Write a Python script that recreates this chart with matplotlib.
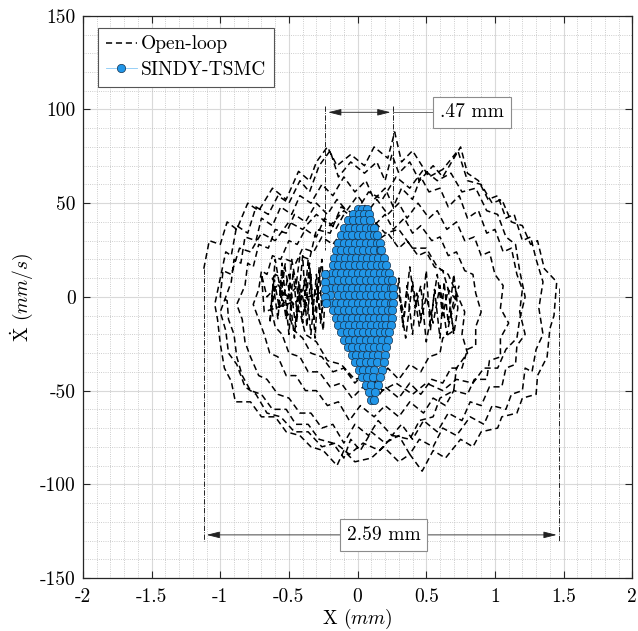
import matplotlib
matplotlib.use('Agg')
import matplotlib.pyplot as plt
from matplotlib.ticker import MultipleLocator

plt.rcParams['font.family'] = 'serif'
plt.rcParams['font.serif'] = ['cmr10', 'DejaVu Serif']
plt.rcParams['mathtext.fontset'] = 'cm'
plt.rcParams['axes.unicode_minus'] = False

# open-loop trajectory (x in mm, xdot in mm/s)
loop_1 = [(-1.12, 15), (-1.08, 30), (-1.0, 28), (-0.95, 40), (-0.88, 36), (-0.8, 50), (-0.72, 46),
          (-0.62, 58), (-0.52, 52), (-0.43, 67), (-0.35, 62), (-0.3, 72), (-0.22, 80), (-0.15, 70),
          (-0.05, 76), (0.05, 70), (0.12, 80), (0.22, 74), (0.27, 88), (0.32, 72), (0.4, 78),
          (0.52, 64), (0.62, 68), (0.73, 78), (0.8, 62), (0.9, 60), (0.98, 50), (1.05, 52),
          (1.12, 40), (1.2, 38), (1.26, 28), (1.31, 30), (1.36, 15), (1.45, 8), (1.43, -10),
          (1.4, -17), (1.38, -32), (1.31, -42), (1.3, -52), (1.2, -54), (1.16, -62), (1.05, -64),
          (1.02, -70), (0.9, -72), (0.84, -80), (0.75, -76), (0.64, -86), (0.55, -82), (0.47, -93),
          (0.38, -84), (0.3, -88), (0.19, -80), (0.1, -86), (-0.02, -88), (-0.1, -82), (-0.15, -90),
          (-0.25, -82), (-0.34, -80), (-0.42, -74), (-0.52, -72), (-0.6, -64), (-0.7, -64),
          (-0.78, -56), (-0.89, -56), (-0.92, -45), (-0.97, -38), (-1.0, -25), (-1.02, -12),
          (-1.04, -4)]
loop_2 = [(-1.0, 10), (-0.96, 24), (-0.92, 22), (-0.88, 38), (-0.8, 34), (-0.74, 48), (-0.65, 44),
          (-0.58, 54), (-0.5, 50), (-0.42, 62), (-0.35, 56), (-0.28, 70), (-0.2, 78), (-0.14, 64),
          (-0.05, 72), (0.05, 66), (0.14, 72), (0.2, 62), (0.25, 76), (0.3, 66), (0.38, 72),
          (0.45, 62), (0.55, 70), (0.62, 64), (0.75, 80), (0.8, 66), (0.88, 62), (0.95, 52),
          (1.02, 54), (1.08, 42), (1.14, 44), (1.2, 30), (1.26, 32), (1.3, 20), (1.35, 8),
          (1.32, -6), (1.35, -20), (1.3, -28), (1.27, -40), (1.22, -38), (1.2, -50), (1.12, -52),
          (1.08, -60), (0.98, -58), (0.92, -68), (0.82, -64), (0.72, -74), (0.62, -70), (0.55, -80),
          (0.45, -76), (0.38, -84), (0.3, -74), (0.2, -78), (0.1, -72), (0.02, -82), (-0.05, -76),
          (-0.1, -86), (-0.18, -78), (-0.28, -76), (-0.36, -68), (-0.45, -68), (-0.52, -60),
          (-0.62, -60), (-0.7, -52), (-0.78, -50), (-0.84, -42), (-0.88, -32), (-0.9, -20),
          (-0.94, -12), (-0.95, -2)]
loop_3 = [(-0.92, 8), (-0.9, 20), (-0.85, 18), (-0.82, 32), (-0.74, 30), (-0.7, 42), (-0.62, 38),
          (-0.56, 48), (-0.48, 44), (-0.42, 54), (-0.34, 50), (-0.26, 60), (-0.18, 54), (-0.1, 64),
          (-0.02, 56), (0.06, 62), (0.12, 52), (0.2, 58), (0.26, 48), (0.32, 58), (0.4, 52),
          (0.46, 64), (0.52, 56), (0.6, 58), (0.66, 48), (0.74, 54), (0.8, 42), (0.88, 46),
          (0.94, 34), (1.0, 36), (1.06, 24), (1.12, 26), (1.16, 12), (1.2, 4), (1.18, -8),
          (1.22, -20), (1.16, -26), (1.15, -36), (1.08, -38), (1.05, -48), (0.96, -48), (0.9, -58),
          (0.82, -56), (0.76, -66), (0.66, -62), (0.58, -72), (0.48, -66), (0.4, -76), (0.32, -68),
          (0.25, -74), (0.15, -66), (0.08, -74), (-0.02, -68), (-0.1, -78), (-0.18, -68),
          (-0.26, -70), (-0.34, -62), (-0.42, -62), (-0.5, -54), (-0.58, -52), (-0.66, -44),
          (-0.72, -42), (-0.78, -32), (-0.82, -24), (-0.84, -12), (-0.88, -4)]
loop_7 = [(-0.45, 5), (-0.42, 22), (-0.35, 20), (-0.3, 36), (-0.2, 34), (-0.12, 48), (-0.02, 44),
          (0.08, 56), (0.18, 52), (0.28, 64), (0.38, 58), (0.48, 68), (0.58, 62), (0.68, 66),
          (0.76, 56), (0.86, 58), (0.94, 46), (1.02, 44), (1.08, 32), (1.15, 28), (1.18, 14),
          (1.22, 0), (1.18, -12), (1.16, -22), (1.08, -28), (1.02, -38), (0.92, -38), (0.84, -46),
          (0.72, -44), (0.62, -50), (0.5, -46), (0.4, -52), (0.28, -46), (0.18, -50), (0.08, -42),
          (-0.02, -44), (-0.12, -36), (-0.22, -34), (-0.3, -24), (-0.38, -20), (-0.42, -8)]
loop_4 = [(-0.82, 6), (-0.8, 18), (-0.76, 16), (-0.72, 28), (-0.65, 26), (-0.6, 36), (-0.52, 34),
          (-0.46, 44), (-0.38, 40), (-0.3, 50), (-0.22, 44), (-0.15, 52), (-0.08, 46), (0.0, 54),
          (0.08, 46), (0.14, 52), (0.22, 44), (0.3, 50), (0.36, 42), (0.44, 50), (0.52, 42),
          (0.58, 46), (0.65, 36), (0.72, 40), (0.78, 30), (0.85, 32), (0.9, 22), (0.96, 24),
          (1.0, 12), (1.06, 6), (1.04, -6), (1.1, -14), (1.04, -22), (1.04, -32), (0.96, -34),
          (0.94, -44), (0.85, -44), (0.8, -52), (0.7, -50), (0.64, -58), (0.55, -54), (0.48, -62),
          (0.38, -56), (0.3, -64), (0.2, -58), (0.12, -64), (0.02, -58), (-0.06, -66), (-0.14, -56),
          (-0.22, -58), (-0.3, -50), (-0.38, -50), (-0.45, -42), (-0.52, -42), (-0.58, -32),
          (-0.64, -30), (-0.68, -20), (-0.72, -12), (-0.76, -4)]
loop_5 = [(-0.72, 4), (-0.7, 14), (-0.66, 12), (-0.62, 22), (-0.56, 20), (-0.5, 30), (-0.44, 28),
          (-0.38, 36), (-0.3, 32), (-0.24, 42), (-0.16, 36), (-0.1, 44), (-0.02, 38), (0.06, 46),
          (0.12, 38), (0.2, 44), (0.26, 36), (0.34, 42), (0.4, 34), (0.46, 38), (0.54, 30),
          (0.6, 32), (0.66, 22), (0.72, 24), (0.78, 14), (0.84, 12), (0.86, 2), (0.9, -8),
          (0.86, -16), (0.86, -26), (0.8, -28), (0.76, -38), (0.68, -38), (0.62, -46), (0.54, -44),
          (0.46, -52), (0.38, -46), (0.3, -54), (0.2, -48), (0.12, -56), (0.04, -48), (-0.04, -54),
          (-0.12, -46), (-0.2, -48), (-0.28, -40), (-0.36, -40), (-0.42, -32), (-0.5, -30),
          (-0.55, -20), (-0.6, -16), (-0.63, -6)]
loop_8 = [(-1.0, 0), (-0.98, 14), (-0.92, 12), (-0.86, 26), (-0.78, 24), (-0.7, 34), (-0.6, 30),
          (-0.5, 40), (-0.4, 36), (-0.3, 44), (-0.2, 38), (-0.1, 46), (0.0, 40), (0.1, 42),
          (0.2, 34), (0.3, 36), (0.4, 26), (0.5, 26), (0.58, 16), (0.66, 12), (0.72, 2),
          (0.78, -8), (0.76, -20), (0.8, -30), (0.72, -38), (0.7, -50), (0.6, -54), (0.55, -64),
          (0.45, -66), (0.38, -76), (0.26, -74), (0.16, -82), (0.04, -78), (-0.06, -84),
          (-0.16, -78), (-0.26, -80), (-0.36, -72), (-0.46, -72), (-0.56, -64), (-0.66, -62),
          (-0.74, -52), (-0.82, -48), (-0.88, -36), (-0.94, -30), (-0.96, -18), (-1.0, -8)]
loop_6 = [(-0.62, 4), (-0.6, 12), (-0.55, 10), (-0.52, 20), (-0.45, 18), (-0.4, 26), (-0.32, 24),
          (-0.26, 32), (-0.18, 28), (-0.1, 36), (-0.02, 30), (0.06, 36), (0.14, 30), (0.22, 34),
          (0.3, 26), (0.36, 30), (0.44, 22), (0.5, 24), (0.56, 16), (0.62, 14), (0.66, 4),
          (0.72, -2), (0.68, -10), (0.7, -18), (0.62, -22), (0.6, -30), (0.52, -32), (0.46, -40),
          (0.38, -36), (0.3, -44), (0.22, -38), (0.14, -46), (0.06, -40), (-0.02, -46),
          (-0.1, -38), (-0.18, -40), (-0.26, -32), (-0.34, -30), (-0.4, -22), (-0.46, -18),
          (-0.5, -10), (-0.55, -4)]
center_noise = [(-0.62, 10), (-0.58, -12), (-0.55, 18), (-0.5, -20), (-0.47, 14), (-0.44, -10),
                (-0.4, 22), (-0.37, -16), (-0.34, 12), (-0.31, -22), (-0.28, 16), (-0.26, -8),
                (-0.23, 10), (-0.25, -18), (-0.3, 6), (-0.33, -4), (-0.36, 20), (-0.4, -14),
                (-0.43, 8), (-0.46, -22), (-0.5, 4), (-0.53, 16), (-0.57, -6), (-0.6, 6),
                (-0.64, -14), (-0.6, 20), (-0.55, -2), (-0.5, 12), (-0.45, -16), (-0.41, 4),
                (-0.38, -8), (-0.35, 18), (-0.32, -12), (-0.29, 2), (-0.26, 20), (-0.24, -4),
                (-0.22, 14), (-0.27, -14), (-0.3, 12), (-0.34, -20), (-0.38, 10), (-0.42, -4),
                (-0.48, 20), (-0.52, -12), (-0.56, 8), (-0.66, 0), (-0.7, 12), (-0.68, -8),
                (-0.2, 4), (0.28, -4),
                (0.3, 10), (0.33, -16), (0.36, 6), (0.4, -20), (0.43, 2), (0.46, -12), (0.5, 14),
                (0.53, -18), (0.56, 4), (0.6, -22), (0.63, 8), (0.66, -14), (0.7, 12), (0.73, -6),
                (0.7, -20), (0.66, 4), (0.62, -10), (0.58, 12), (0.54, -8), (0.5, -24), (0.46, 6),
                (0.42, -6), (0.38, 16), (0.34, -10), (0.3, 2), (0.35, -22), (0.4, 8), (0.45, -16),
                (0.5, 0), (0.55, -14), (0.6, 6), (0.65, -20), (0.7, -2), (0.74, 6)]

# closed-loop (SINDY-TSMC) states: one row of x positions per xdot level
blue_levels = [47, 44, 41, 37, 33, 29, 25, 21, 17, 13, 9, 5, 1, -3, -7, -11, -15, -19, -23,
               -27, -31, -35, -39, -43, -47, -51, -55]
blue_rows = [
    [0.0, 0.035, 0.07],
    [-0.03, 0.01, 0.05, 0.08],
    [-0.07, -0.03, 0.01, 0.05, 0.09],
    [-0.1, -0.06, -0.02, 0.02, 0.06, 0.1, 0.12],
    [-0.12, -0.08, -0.04, 0.0, 0.04, 0.08, 0.12, 0.14],
    [-0.14, -0.1, -0.06, -0.02, 0.02, 0.06, 0.1, 0.14, 0.16],
    [-0.16, -0.12, -0.08, -0.04, 0.0, 0.04, 0.08, 0.12, 0.16, 0.17],
    [-0.17, -0.13, -0.09, -0.05, -0.01, 0.03, 0.07, 0.11, 0.15, 0.19],
    [-0.18, -0.14, -0.1, -0.06, -0.02, 0.02, 0.06, 0.1, 0.14, 0.18, 0.21],
    [-0.19, -0.16, -0.12, -0.08, -0.04, 0.0, 0.04, 0.08, 0.12, 0.16, 0.2, 0.23],
    [-0.19, -0.14, -0.1, -0.06, -0.02, 0.02, 0.06, 0.1, 0.14, 0.18, 0.22, 0.25],
    [-0.2, -0.16, -0.12, -0.08, -0.04, 0.0, 0.04, 0.08, 0.12, 0.16, 0.2, 0.24, 0.26],
    [-0.2, -0.14, -0.1, -0.06, -0.02, 0.02, 0.06, 0.1, 0.14, 0.18, 0.22, 0.26],
    [-0.19, -0.16, -0.12, -0.08, -0.04, 0.0, 0.04, 0.08, 0.12, 0.16, 0.2, 0.24, 0.26],
    [-0.18, -0.14, -0.1, -0.06, -0.02, 0.02, 0.06, 0.1, 0.14, 0.18, 0.22, 0.25],
    [-0.16, -0.12, -0.08, -0.04, 0.0, 0.04, 0.08, 0.12, 0.16, 0.2, 0.25],
    [-0.14, -0.1, -0.06, -0.02, 0.02, 0.06, 0.1, 0.14, 0.18, 0.21, 0.24],
    [-0.12, -0.08, -0.04, 0.0, 0.04, 0.08, 0.12, 0.16, 0.2, 0.23],
    [-0.1, -0.06, -0.02, 0.02, 0.06, 0.1, 0.14, 0.18, 0.22],
    [-0.07, -0.04, 0.0, 0.04, 0.08, 0.12, 0.16, 0.21],
    [-0.04, -0.01, 0.03, 0.07, 0.11, 0.15, 0.2],
    [-0.02, 0.02, 0.06, 0.1, 0.14, 0.19],
    [0.01, 0.04, 0.08, 0.12, 0.18],
    [0.03, 0.07, 0.11, 0.16],
    [0.06, 0.1, 0.15],
    [0.08, 0.13],
    [0.1, 0.12],
]
blue_edge_x = [-0.24, -0.24, -0.235, -0.235, -0.23]
blue_edge_y = [12, 8, 4, 0, -3]

x_ticks = [-2, -1.5, -1, -0.5, 0, 0.5, 1, 1.5, 2]
x_tick_labels = ['-2', '-1.5', '-1', '-0.5', '0', '0.5', '1', '1.5', '2']
y_ticks = [-150, -100, -50, 0, 50, 100, 150]
y_tick_labels = ['-150', '-100', '-50', '0', '50', '100', '150']

# ---- build series ----
ol = (loop_1 + loop_2 + loop_8 + loop_3 + loop_4 + loop_5 + loop_6 + loop_7
      + center_noise)
ol_x = [p[0] for p in ol]
ol_y = [p[1] for p in ol]

bx, by = [], []
for lvl, row in zip(blue_levels, blue_rows):
    bx += row
    by += [lvl] * len(row)
bx += blue_edge_x
by += blue_edge_y

fig = plt.figure(figsize=(6.38, 6.31), dpi=100)
ax = fig.add_axes([0.130, 0.084, 0.861, 0.891])

ax.plot(ol_x, ol_y, color='black', lw=1.1, dashes=(4, 2.5), label='Open-loop', zorder=3)
ax.plot(bx, by, color='#86c8f5', lw=0.6, marker='o', ms=6, mfc='#2196e8',
        mec='#16324d', mew=0.5, label='SINDY-TSMC', zorder=4)

ax.set_xlim(-2, 2)
ax.set_ylim(-150, 150)
ax.set_xticks(x_ticks)
ax.set_xticklabels(x_tick_labels)
ax.set_yticks(y_ticks)
ax.set_yticklabels(y_tick_labels)
ax.xaxis.set_minor_locator(MultipleLocator(0.1))
ax.yaxis.set_minor_locator(MultipleLocator(10))
ax.grid(which='major', color='#d9d9d9', lw=0.8, ls='-')
ax.grid(which='minor', color='#bdbdbd', lw=0.6, ls=':')
ax.set_axisbelow(True)
ax.tick_params(which='major', direction='in', length=5, width=0.8, top=True, right=True,
               labelsize=14, colors='#262626', labelcolor='black')
ax.tick_params(axis='x', which='major', pad=7)
ax.tick_params(axis='y', which='major', pad=5)
ax.tick_params(which='minor', length=0)
for s in ax.spines.values():
    s.set_color('#262626')
    s.set_linewidth(0.9)

ax.set_xlabel('X $(mm)$', fontsize=14, labelpad=1)
ax.set_ylabel(r'$\dot{\mathrm{X}}$ $(mm/s)$', fontsize=14, labelpad=4)

# dimension marks
dim = dict(color='black', lw=0.6, ls='-.', zorder=5)
ax.plot([-0.235, -0.235], [102, 25], **dim)
ax.plot([0.26, 0.26], [102, 30], **dim)
ax.plot([-1.12, -1.12], [15, -130], **dim)
ax.plot([1.47, 1.47], [5, -130], **dim)

arr = dict(arrowstyle='<|-|>,head_length=0.8,head_width=0.2', color='#222222', lw=0.6)
ax.annotate('', xy=(-0.235, 98.5), xytext=(0.26, 98.5), arrowprops=arr, zorder=6)
ax.plot([0.26, 0.6], [98.5, 98.5], color='#555555', lw=0.6, zorder=5)
ax.text(0.6, 98.5, '.47 mm', fontsize=14, va='center', ha='left', zorder=7,
        bbox=dict(boxstyle='square,pad=0.35', fc='white', ec='#8c8c8c', lw=0.8))
ax.annotate('', xy=(-1.12, -127), xytext=(1.47, -127), arrowprops=arr, zorder=6)
ax.text(0.19, -127, '2.59 mm', fontsize=14, va='center', ha='center', zorder=7,
        bbox=dict(boxstyle='square,pad=0.35', fc='white', ec='#8c8c8c', lw=0.8))

leg = ax.legend(loc='upper left', bbox_to_anchor=(0.027, 0.979), borderaxespad=0,
                fontsize=14, fancybox=False, framealpha=1, edgecolor='#555555',
                handlelength=1.6, handletextpad=0.2, borderpad=0.4, labelspacing=0.4)
leg.get_frame().set_linewidth(0.8)

fig.savefig('out.png', dpi=100, facecolor='white')
